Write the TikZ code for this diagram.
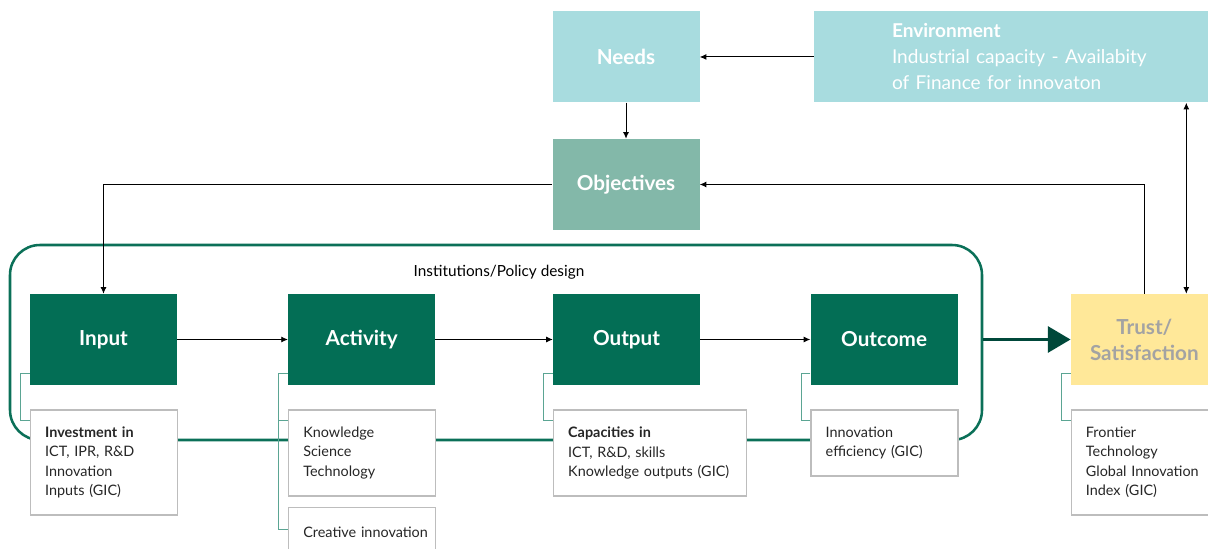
\documentclass[tikz,border=0pt]{standalone}
\usepackage{fontspec}
\setmainfont{Lato}
\usetikzlibrary{arrows.meta,positioning,fit,calc}

\definecolor{stagegreen}{HTML}{036E55}
\definecolor{darkgreen}{HTML}{00483A}
\definecolor{policygreen}{HTML}{0B7058}
\definecolor{treegreen}{HTML}{5BA593}
\definecolor{needsblue}{HTML}{A8DCDF}
\definecolor{objgreen}{HTML}{83B8A9}
\definecolor{trustyellow}{HTML}{FFE899}
\definecolor{trustgray}{HTML}{A3A3A3}
\definecolor{subgray}{HTML}{BDBDBD}
\definecolor{textgray}{HTML}{262626}

\begin{document}
\begin{tikzpicture}[
  x=0.75pt, y=-0.75pt,
  font=\fontsize{10.8}{14.6}\selectfont,
  stage/.style={fill=stagegreen, text=white, minimum width=110.25pt, minimum height=68.25pt, inner sep=0pt, align=center, font=\fontsize{15.5}{19.5}\selectfont\bfseries},
  topbox/.style={stage, fill=needsblue},
  sub/.style={draw=subgray, line width=1.1pt, fill=white, text=textgray, align=left, inner xsep=11pt, inner ysep=0pt, text width=88.25pt},
  policy/.style={draw=policygreen, line width=1.9pt, rounded corners=22.5pt, inner sep=0pt},
  tree/.style={draw=treegreen, line width=0.8pt},
  arr/.style={-{Latex[length=5pt,width=4.5pt]}, line width=0.7pt},
  dblarr/.style={{Latex[length=5pt,width=4.5pt]}-{Latex[length=5pt,width=4.5pt]}, line width=0.7pt},
  bigarr/.style={-{Triangle[length=17pt,width=19.5pt]}, line width=2.25pt, draw=darkgreen, fill=darkgreen}
]
\useasboundingbox (0,0) rectangle (1208,549);

% institutions frame
\node[policy, fit={(10,245) (982,440)}] (inst) {};
\node[font=\fontsize{11.5}{14}\selectfont] (instlabel) at (499,272) {Institutions/Policy design};

% top row
\node[topbox, fill=objgreen] (objectives) at (626,184.5) {Objectives};
\node[topbox, above=27pt of objectives] (needs) {Needs};
\node[topbox, right=85.5pt of needs, minimum width=327pt, text width=210pt, inner xsep=58.5pt, align=left, font=\fontsize{14.3}{19.5}\selectfont] (env) {\textbf{Environment}\\Industrial capacity - Availabity\\of Finance for innovaton};

% stages
\node[stage] (input) at (103.5,339.5) {Input};
\node[stage, right=83pt of input] (activity) {Activity};
\node[stage, right=88pt of activity] (output) {Output};
\node[stage, right=82.5pt of output] (outcome) {Outcome};
\node[stage, fill=trustyellow, text=trustgray, right=84.5pt of outcome] (trust) {Trust/\\Satisfaction};

% indicator boxes
\node[sub, below=18pt of input.south west, anchor=north west, minimum height=78.75pt] (insub) {\textbf{Investment in}\\ICT, IPR, R\&D\\Innovation\\Inputs (GIC)};
\node[sub, below=18pt of activity.south west, anchor=north west, minimum height=64.5pt] (actsub) {Knowledge\\Science\\Technology};
\node[sub, below=7.5pt of actsub.south west, anchor=north west, minimum height=37.5pt] (actsubb) {\mbox{Creative innovation}};
\node[sub, below=18pt of output.south west, anchor=north west, minimum height=64.5pt, text width=122.75pt] (outsub) {\textbf{Capacities in}\\ICT, R\&D, skills\\Knowledge outputs (GIC)};
\node[sub, below=18pt of outcome.south west, anchor=north west, minimum height=49.5pt] (outcsub) {Innovation\\efficiency (GIC)};
\node[sub, below=18pt of trust.south west, anchor=north west, minimum height=78.75pt] (trustsub) {Frontier\\Technology\\Global Innovation\\Index (GIC)};

% tree connectors
\draw[tree] ([yshift=9pt]input.south west) -- ++(-6.75pt,0) |- ([yshift=-8.25pt]insub.north west);
\draw[tree] ([yshift=9pt]activity.south west) -- ++(-6.75pt,0) |- ([yshift=-8.25pt]actsub.north west);
\draw[tree] ([xshift=-6.75pt]actsub.north west) |- ([yshift=-17.25pt]actsubb.north west);
\draw[tree] ([yshift=9pt]output.south west) -- ++(-6.75pt,0) |- ([yshift=-8.25pt]outsub.north west);
\draw[tree] ([yshift=9pt]outcome.south west) -- ++(-6.75pt,0) |- ([yshift=-8.25pt]outcsub.north west);
\draw[tree] ([yshift=9pt]trust.south west) -- ++(-6.75pt,0) |- ([yshift=-8.25pt]trustsub.north west);

% arrows
\draw[arr] (env) -- (needs);
\draw[arr] (needs) -- (objectives);
\draw[arr] (objectives.west) -| (input.north);
\draw[arr] (trust.north) |- (objectives.east);
\draw[dblarr] ([xshift=31.5pt]trust.north) -- ([xshift=31.5pt]trust.north |- env.south);
\draw[arr] (input) -- (activity);
\draw[arr] (activity) -- (output);
\draw[arr] (output) -- (outcome);
\draw[bigarr] (inst.east |- trust.west) -- (trust.west);
\end{tikzpicture}
\end{document}
